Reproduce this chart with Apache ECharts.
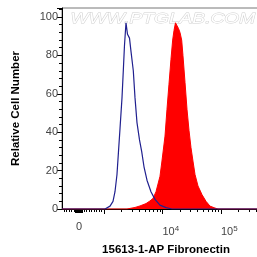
<!DOCTYPE html>
<html>
<head>
<meta charset="utf-8">
<script src="https://cdn.jsdelivr.net/npm/echarts@6/dist/echarts.min.js"></script>
<style>
  html, body {margin: 0; padding: 0; background: #fff;}
  #chart {width: 257px; height: 257px;}
</style>
</head>
<body>
<div id="chart"></div>
<script>
// x is in display units of the logicle axis: 3 = 10^3, 4 = 10^4, 5 = 10^5
const zeroPos = 2.573;
const isotypeX = [2.282, 3.017, 3.103, 3.154, 3.188, 3.222, 3.248, 3.274, 3.308, 3.330, 3.350, 3.376, 3.402, 3.436, 3.462, 3.501, 3.530, 3.564, 3.607, 3.644, 3.684, 3.735, 3.803, 3.872, 3.957, 4.060, 4.162, 5.838];
const isotypeY = [0, 0, 1.5, 4, 9, 18, 30, 42, 58, 72, 85, 97, 91, 89, 82, 72, 58, 45, 36, 30, 22, 15, 9, 5, 2, 0.7, 0, 0];
const stainedX = [2.282, 3.393, 3.530, 3.615, 3.718, 3.786, 3.838, 3.889, 3.923, 3.957, 3.991, 4.043, 4.077, 4.111, 4.145, 4.174, 4.197, 4.222, 4.248, 4.274, 4.299, 4.328, 4.350, 4.385, 4.419, 4.453, 4.487, 4.521, 4.556, 4.607, 4.675, 4.744, 4.812, 4.897, 4.949, 5.838];
const stainedY = [0, 0, 0.8, 1.6, 2.8, 4.2, 5.5, 9, 13, 17, 25, 38, 52, 65, 78, 88, 93, 97, 96, 94, 92, 88, 80, 66, 52, 41, 32, 25, 18, 12, 7.5, 4, 1.5, 0.5, 0, 0];

const majorTicks = [3, 4, 5];
const decadeLabels = [4, 5];

// log minor ticks, and linear ticks around zero
let minorTicks = [];
[3, 4, 5].forEach((d) => {
  for (let k = 2; k <= 9; k++) minorTicks.push(d + Math.log10(k));
});
for (let k = -6; k <= 9; k++) {
  if (k !== 0) minorTicks.push(zeroPos + k * 0.0427);
}
let zeroBlock = [];
for (let v = 2.505; v <= 2.64; v += 0.008) zeroBlock.push(v);

const toPairs = (xs, ys) => xs.map((x, i) => [x, ys[i]]);

const chart = echarts.init(document.getElementById('chart'));
const baseX = {
  type: 'value', min: 2.282, max: 5.838, gridIndex: 0, position: 'bottom', offset: 0,
  splitLine: {show: false},
};
const labelFont = {color: '#444', fontFamily: 'Liberation Sans', fontSize: 11};
chart.setOption({
  animation: false,
  grid: {
    left: 62, right: -13, top: 8, bottom: 48, outerBoundsMode: 'none', containLabel: false,
    show: true, borderColor: '#777', borderWidth: 1
  },
  graphic: [{
    type: 'text', left: 70, top: 12, z: 0, scaleX: 1.37,
    style: {text: 'WWW.PTGLAB.COM', font: 'italic 14px Liberation Sans', fill: '#fff', stroke: '#cfcfcf', lineWidth: 0.8}
  }],
  xAxis: [
    Object.assign({}, baseX, {
      name: '15613-1-AP Fibronectin',
      nameLocation: 'middle',
      nameGap: 35,
      nameTextStyle: {fontFamily: 'Liberation Sans', fontWeight: 'bold', fontSize: 11.5, color: '#000'},
      axisLine: {show: true, onZero: false, lineStyle: {color: '#000', width: 1}},
      axisTick: {show: true, length: 5, customValues: majorTicks, lineStyle: {color: '#000'}},
      axisLabel: Object.assign({}, labelFont, {
        customValues: decadeLabels, margin: 11, align: 'left',
        formatter: (v) => '{b|10}{s|' + Math.round(v) + '}',
        rich: {b: Object.assign({}, labelFont, {padding: [6, 0, 0, 0]}),
               s: Object.assign({}, labelFont, {fontSize: 8, padding: [0, 0, 0, 0]})}
      }),
    }),
    Object.assign({}, baseX, {
      axisLine: {show: false, onZero: false},
      axisTick: {show: true, length: 3, customValues: minorTicks, lineStyle: {color: '#000'}},
      axisLabel: {show: false},
    }),
    Object.assign({}, baseX, {
      axisLine: {show: false, onZero: false},
      axisTick: {show: true, length: 4, customValues: zeroBlock, lineStyle: {color: '#000'}},
      axisLabel: Object.assign({}, labelFont, {customValues: [zeroPos], margin: 12, formatter: () => '0'}),
    }),
  ],
  yAxis: {
    type: 'value', min: 0, max: 104.7, interval: 20,
    name: 'Relative Cell Number',
    nameLocation: 'middle',
    nameGap: 40,
    nameTextStyle: {fontFamily: 'Liberation Sans', fontWeight: 'bold', fontSize: 11.5, color: '#000'},
    splitLine: {show: false},
    axisLine: {show: true, lineStyle: {color: '#000'}},
    axisTick: {show: true, length: 5, lineStyle: {color: '#000'}},
    minorTick: {show: true, splitNumber: 5, length: 3, lineStyle: {color: '#000'}},
    axisLabel: {margin: 4, color: '#444', fontFamily: 'Liberation Sans', fontSize: 11},
  },
  series: [
    {
      name: 'stained', type: 'line', xAxisIndex: 0, data: toPairs(stainedX, stainedY),
      symbol: 'none', smooth: false,
      lineStyle: {color: '#ff0000', width: 1},
      areaStyle: {color: '#ff0000', opacity: 1},
      z: 2,
    },
    {
      name: 'isotype', type: 'line', xAxisIndex: 0, data: toPairs(isotypeX, isotypeY),
      symbol: 'none', smooth: false,
      lineStyle: {color: '#20208f', width: 1.2},
      z: 3,
    },
  ],
});
</script>
</body>
</html>
